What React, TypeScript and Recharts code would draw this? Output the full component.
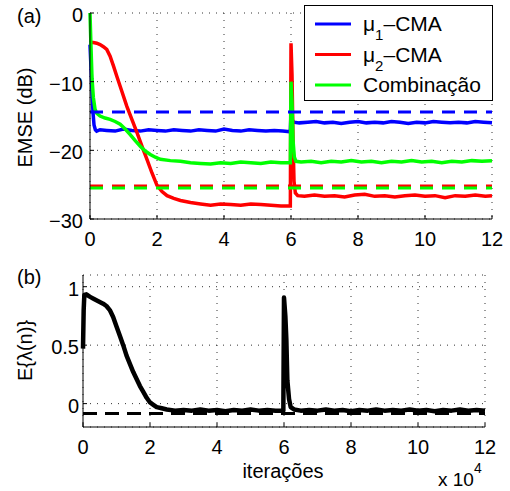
import React from "react";
import { LineChart, Line, XAxis, YAxis, CartesianGrid, Legend } from "recharts";

// x values are in units of 10^4 iterations
const xTicks = [0, 2, 4, 6, 8, 10, 12];
const emseTicks = [-30, -20, -10, 0];
const lambdaTicks = [0, 0.5, 1];

const seriesNames = ["μ1–CMA", "μ2–CMA", "Combinação"];

// (a) EMSE curves, [iteration, dB]
const mu1Emse = [
  [0, -4.6], [0.03, -8], [0.06, -11.5], [0.09, -14.5], [0.12, -16.3], [0.16, -17], [0.2, -17.2],
  [0.3, -17.0], [0.5, -17.1], [0.75, -17.2], [1, -16.9], [1.25, -17.1], [1.5, -17.2], [1.75, -17.0],
  [2, -17.1], [2.25, -17.2], [2.5, -17.0], [2.75, -17.1], [3, -17.2], [3.25, -17.0], [3.5, -17.1],
  [3.75, -17.2], [4, -16.9], [4.25, -17.1], [4.5, -17.2], [4.75, -17.0], [5, -17.1], [5.25, -17.2],
  [5.5, -17.1], [5.75, -17.2], [5.98, -17.3], [6.01, -13], [6.04, -15.6], [6.08, -15.9],
  [6.25, -16.0], [6.5, -15.9], [6.75, -15.8], [7, -16.0], [7.25, -15.9], [7.5, -16.1], [7.75, -15.9],
  [8, -15.8], [8.25, -16.0], [8.5, -15.9], [8.75, -16.0], [9, -15.8], [9.25, -15.9], [9.5, -16.1],
  [9.75, -15.9], [10, -16.0], [10.25, -15.8], [10.5, -15.9], [10.75, -16.0], [11, -15.9],
  [11.25, -16.0], [11.5, -15.8], [11.75, -15.9], [12, -16.0],
];

const mu2Emse = [
  [0, -4.3], [0.1, -4.3], [0.2, -4.4], [0.3, -4.6], [0.4, -4.9], [0.5, -5.3], [0.6, -6.3],
  [0.7, -7.7], [0.8, -9.2], [0.95, -11.4], [1.1, -13.6], [1.25, -15.5], [1.4, -17.4], [1.55, -19.4],
  [1.7, -21.3], [1.85, -23.3], [2.0, -25.1], [2.15, -26.0], [2.3, -26.6], [2.5, -27.0], [2.7, -27.3],
  [3.0, -27.6], [3.3, -27.8], [3.6, -28.0], [3.9, -27.8], [4.2, -27.9], [4.5, -28.0], [4.8, -27.8],
  [5.1, -27.9], [5.4, -28.0], [5.7, -28.1], [5.98, -28.1], [6.0, -4.4], [6.03, -9], [6.06, -18.4],
  [6.09, -24.5], [6.13, -26.2], [6.2, -26.6], [6.4, -26.7], [6.7, -26.5], [7.0, -26.7], [7.3, -26.6],
  [7.6, -26.8], [7.9, -26.5], [8.2, -26.4], [8.5, -26.7], [8.8, -26.6], [9.1, -26.8], [9.4, -26.6],
  [9.7, -26.5], [10.0, -26.7], [10.3, -26.6], [10.6, -26.9], [10.9, -26.6], [11.2, -26.7],
  [11.5, -26.5], [11.8, -26.7], [12, -26.6],
];

const combEmse = [
  [0, 0], [0.03, -5], [0.06, -9.5], [0.1, -12.3], [0.15, -14], [0.2, -14.6], [0.3, -15],
  [0.45, -15.3], [0.6, -15.5], [0.75, -15.8], [0.9, -16.2], [1.05, -16.9], [1.2, -17.7],
  [1.35, -18.6], [1.5, -19.4], [1.65, -20.1], [1.8, -20.6], [1.95, -21.0], [2.1, -21.3],
  [2.4, -21.5], [2.7, -21.6], [3.0, -21.8], [3.3, -21.9], [3.6, -22.0], [3.9, -21.8], [4.2, -21.9],
  [4.5, -21.7], [4.8, -21.8], [5.1, -21.9], [5.4, -21.7], [5.7, -21.8], [5.98, -21.8], [6.0, -10.0],
  [6.03, -13], [6.06, -18.5], [6.1, -21.0], [6.15, -21.6], [6.3, -21.7], [6.6, -21.6], [6.9, -21.8],
  [7.2, -21.6], [7.5, -21.7], [7.8, -21.5], [8.1, -21.7], [8.4, -21.6], [8.7, -21.8], [9.0, -21.6],
  [9.3, -21.7], [9.6, -21.5], [9.9, -21.7], [10.2, -21.6], [10.5, -21.8], [10.8, -21.6],
  [11.1, -21.7], [11.4, -21.5], [11.7, -21.6], [12, -21.5],
];

// theoretical steady-state levels (dashed)
const mu1Theory = -14.4;
const mu2Theory = -25.2;
const combTheory = -25.5;

// (b) mean of lambda(n)
const lambdaMean = [
  [0, 0.47], [0.02, 0.8], [0.04, 0.93], [0.1, 0.935], [0.2, 0.915], [0.3, 0.9], [0.4, 0.885],
  [0.5, 0.87], [0.6, 0.855], [0.7, 0.835], [0.8, 0.8], [0.9, 0.74], [1.0, 0.66], [1.1, 0.58],
  [1.2, 0.5], [1.3, 0.41], [1.4, 0.34], [1.5, 0.27], [1.6, 0.21], [1.7, 0.15], [1.8, 0.1],
  [1.9, 0.05], [2.0, 0.01], [2.1, -0.01], [2.2, -0.03], [2.35, -0.04], [2.5, -0.05], [2.75, -0.06],
  [3.0, -0.055], [3.25, -0.06], [3.5, -0.05], [3.75, -0.06], [4.0, -0.055], [4.25, -0.065],
  [4.5, -0.055], [4.75, -0.06], [5.0, -0.05], [5.25, -0.06], [5.5, -0.055], [5.75, -0.06],
  [5.98, -0.06], [6.0, 0.907], [6.04, 0.75], [6.07, 0.55], [6.1, 0.2], [6.15, 0.04], [6.2, -0.03],
  [6.3, -0.05], [6.5, -0.06], [6.75, -0.055], [7.0, -0.06], [7.25, -0.05], [7.5, -0.06],
  [7.75, -0.055], [8.0, -0.065], [8.25, -0.055], [8.5, -0.06], [8.75, -0.05], [9.0, -0.06],
  [9.25, -0.055], [9.5, -0.06], [9.75, -0.05], [10.0, -0.06], [10.25, -0.055], [10.5, -0.065],
  [10.75, -0.055], [11.0, -0.06], [11.25, -0.05], [11.5, -0.06], [11.75, -0.055], [12, -0.06],
];
const lambdaTheory = -0.085;

const FONT = "'Liberation Sans', Arial, Helvetica, sans-serif";

const toPoints = (pairs: number[][]) => pairs.map(([x, y]) => ({ x, y }));
const flat = (y: number) => [
  { x: xTicks[0], y },
  { x: xTicks[xTicks.length - 1], y },
];
const minus = (v: number) => String(v).replace("-", "\u2212");

const tickStyle = { fill: "#000", fontSize: 20, fontFamily: FONT };

function renderLegend(props: any) {
  const payload = props.payload || [];
  const items = seriesNames
    .map((n) => payload.find((p: any) => p.value === n))
    .filter(Boolean);
  return (
    <svg width={189} height={96} style={{ display: "block" }}>
      <rect x={0.5} y={0.5} width={188} height={95} fill="#fff" stroke="#000" />
      {items.map((p: any, i: number) => {
        const cy = 19 + i * 30.5;
        const m = /^(μ)(\d)(.*)$/.exec(p.value);
        return (
          <g key={p.value}>
            <line x1={11} x2={47} y1={cy} y2={cy} stroke={p.color} strokeWidth={3} />
            <text x={59} y={cy + 7} fontSize={21} fontFamily={FONT} fill="#000">
              {m ? (
                <>
                  {m[1]}
                  <tspan dy={9} fontSize={15}>{m[2]}</tspan>
                  <tspan dy={-9}>{m[3]}</tspan>
                </>
              ) : (
                p.value
              )}
            </text>
          </g>
        );
      })}
    </svg>
  );
}

export default function App() {
  return (
    <div style={{ position: "absolute", left: 0, top: 0, width: 510, height: 491, background: "#fff", fontFamily: FONT }}>
      <svg width={510} height={491} style={{ position: "absolute", left: 0, top: 0 }}>
        <text x={17} y={22.5} fontSize={20} fontFamily={FONT}>(a)</text>
        <text x={17} y={284} fontSize={20} fontFamily={FONT}>(b)</text>
        <text transform="translate(25,117.5) rotate(-90)" textAnchor="middle" dy="0.35em" fontSize={20} fontFamily={FONT}>
          EMSE (dB)
        </text>
        <text transform="translate(25,350.5) rotate(-90)" textAnchor="middle" dy="0.35em" fontSize={20} fontFamily={FONT}>
          E{"{"}λ(n){"}"}
        </text>
        <text x={283} y={478} textAnchor="middle" fontSize={20} fontFamily={FONT}>iterações</text>
        <text x={438} y={486} fontSize={19} fontFamily={FONT}>
          x 10<tspan dy={-13} fontSize={14}>4</tspan>
        </text>
      </svg>

      <div style={{ position: "absolute", left: 0, top: 0 }}>
        <LineChart width={510} height={251} margin={{ top: 13, right: 18, left: 0, bottom: 0 }}>
          <CartesianGrid stroke="#333" strokeDasharray="1 6" />
          <XAxis
            type="number"
            dataKey="x"
            domain={[0, 12]}
            ticks={xTicks}
            interval={0}
            height={32}
            axisLine={{ stroke: "#000" }}
            tickLine={{ stroke: "#000" }}
            tickSize={-4}
            tickMargin={16.5}
            tick={tickStyle}
          />
          <YAxis
            type="number"
            domain={[-30, 0]}
            ticks={emseTicks}
            interval={0}
            width={90}
            axisLine={{ stroke: "#000" }}
            tickLine={{ stroke: "#000" }}
            tickSize={-4}
            tickMargin={11}
            tick={{ ...tickStyle, dy: 2 }}
            tickFormatter={minus}
          />
          <Line data={toPoints(mu1Emse)} dataKey="y" name={seriesNames[0]} stroke="#0000ff" strokeWidth={3.5} dot={false} activeDot={false} isAnimationActive={false} />
          <Line data={toPoints(mu2Emse)} dataKey="y" name={seriesNames[1]} stroke="#ff0000" strokeWidth={3.5} dot={false} activeDot={false} isAnimationActive={false} />
          <Line data={toPoints(combEmse)} dataKey="y" name={seriesNames[2]} stroke="#00ff00" strokeWidth={3.5} dot={false} activeDot={false} isAnimationActive={false} />
          <Line data={flat(mu1Theory)} dataKey="y" name="mu1 theory" legendType="none" stroke="#0000ff" strokeWidth={3} strokeDasharray="13 9" dot={false} activeDot={false} isAnimationActive={false} />
          <Line data={flat(mu2Theory)} dataKey="y" name="mu2 theory" legendType="none" stroke="#ff0000" strokeWidth={3} strokeDasharray="13 9" dot={false} activeDot={false} isAnimationActive={false} />
          <Line data={flat(combTheory)} dataKey="y" name="comb theory" legendType="none" stroke="#00ff00" strokeWidth={3} strokeDasharray="13 9" dot={false} activeDot={false} isAnimationActive={false} />
          <Legend
            layout="horizontal"
            verticalAlign="middle"
            align="center"
            content={renderLegend}
            wrapperStyle={{ left: 304, top: 5, width: 189, height: 96, right: "auto", bottom: "auto" }}
          />
        </LineChart>
      </div>

      <div style={{ position: "absolute", left: 0, top: 260 }}>
        <LineChart width={510} height={200} margin={{ top: 15, right: 25, left: 0, bottom: 0 }}>
          <CartesianGrid stroke="#333" strokeDasharray="1 6" />
          <XAxis
            type="number"
            dataKey="x"
            domain={[0, 12]}
            ticks={xTicks}
            interval={0}
            height={33}
            axisLine={{ stroke: "#000" }}
            tickLine={{ stroke: "#000" }}
            tickSize={-4}
            tickMargin={16.5}
            tick={tickStyle}
          />
          <YAxis
            type="number"
            domain={[-0.2, 1.1]}
            ticks={lambdaTicks}
            interval={0}
            width={83}
            axisLine={{ stroke: "#000" }}
            tickLine={{ stroke: "#000" }}
            tickSize={-4}
            tickMargin={8}
            tick={{ ...tickStyle, dy: 2 }}
          />
          <Line data={toPoints(lambdaMean)} dataKey="y" stroke="#000" strokeWidth={4.5} strokeLinejoin="round" dot={false} activeDot={false} isAnimationActive={false} />
          <Line data={flat(lambdaTheory)} dataKey="y" stroke="#000" strokeWidth={3} strokeDasharray="14 8" dot={false} activeDot={false} isAnimationActive={false} />
        </LineChart>
      </div>
    </div>
  );
}
